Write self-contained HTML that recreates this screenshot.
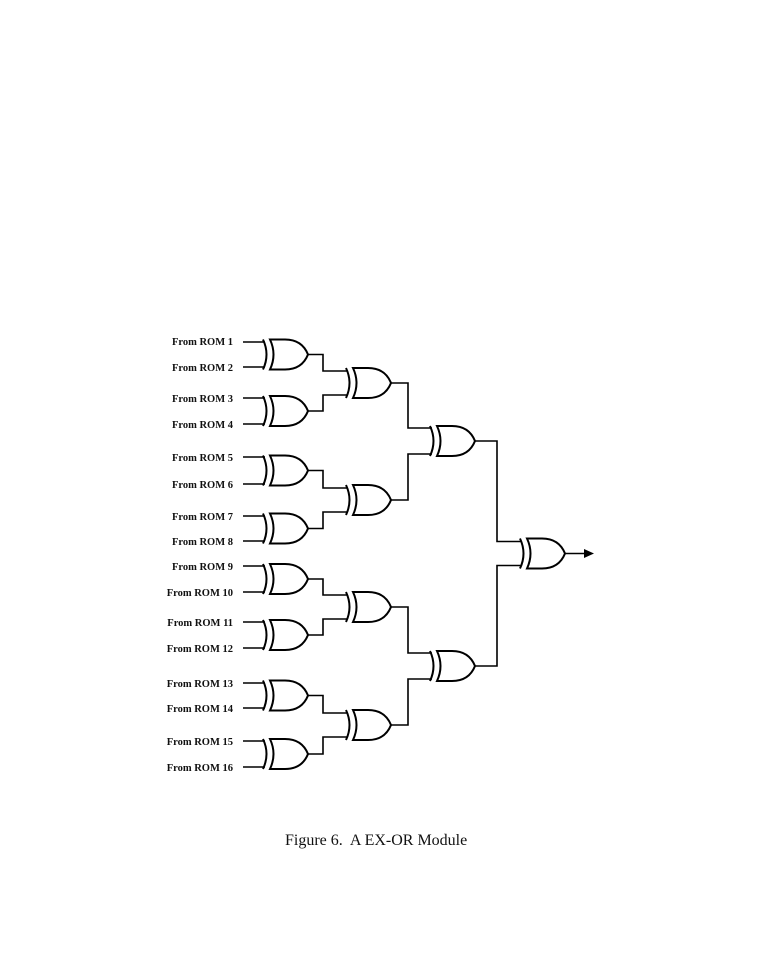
<!DOCTYPE html>
<html><head><style>body{margin:0;background:#fff}svg{display:block}</style></head><body>
<svg width="760" height="977" viewBox="0 0 760 977" xmlns="http://www.w3.org/2000/svg">
<defs>
<g id="g"><path d="M0,-15 L15,-15 Q32,-15 38,0 Q32,15 15,15 L0,15 Q7,0 0,-15 Z M-7,-15 Q0,0 -7,15" fill="none" stroke="#000" stroke-width="2"/></g>
</defs>
<g font-family="Liberation Serif, serif" font-size="10.5" font-weight="bold" text-anchor="end" fill="#111">
<text x="233" y="345">From ROM 1</text><text x="233" y="371">From ROM 2</text>
<text x="233" y="402">From ROM 3</text><text x="233" y="428">From ROM 4</text>
<text x="233" y="461">From ROM 5</text><text x="233" y="488">From ROM 6</text>
<text x="233" y="520">From ROM 7</text><text x="233" y="545">From ROM 8</text>
<text x="233" y="570">From ROM 9</text><text x="233" y="596">From ROM 10</text>
<text x="233" y="626">From ROM 11</text><text x="233" y="652">From ROM 12</text>
<text x="233" y="687">From ROM 13</text><text x="233" y="712">From ROM 14</text>
<text x="233" y="745">From ROM 15</text><text x="233" y="771">From ROM 16</text>
</g>
<g fill="none" stroke="#000" stroke-width="1.6">
<path d="M243,342H265M243,367H265M243,398H265M243,424H265M243,457H265M243,484H265M243,516H265M243,541H265M243,566H265M243,592H265M243,622H265M243,648H265M243,683H265M243,708H265M243,741H265M243,767H265"/>
<path d="M308,354.5H323V371H348M308,411H323V395H348"/>
<path d="M308,470.5H323V488H348M308,528.5H323V512H348"/>
<path d="M308,579H323V595H348M308,635H323V619H348"/>
<path d="M308,695.5H323V713H348M308,754H323V737H348"/>
<path d="M391,383H408V428H432M391,500H408V454H432"/>
<path d="M391,607H408V653H432M391,725H408V679H432"/>
<path d="M475,441H497V541.5H522M475,666H497V565.5H522"/>
<path d="M565,553.5H584"/>
</g>
<path d="M584,549 L594,553.5 L584,558 Z" fill="#000"/>
<use href="#g" x="270" y="354.5"/><use href="#g" x="270" y="411"/>
<use href="#g" x="270" y="470.5"/><use href="#g" x="270" y="528.5"/>
<use href="#g" x="270" y="579"/><use href="#g" x="270" y="635"/>
<use href="#g" x="270" y="695.5"/><use href="#g" x="270" y="754"/>
<use href="#g" x="353" y="383"/><use href="#g" x="353" y="500"/>
<use href="#g" x="353" y="607"/><use href="#g" x="353" y="725"/>
<use href="#g" x="437" y="441"/><use href="#g" x="437" y="666"/>
<use href="#g" x="527" y="553.5"/>
<text x="285" y="845" font-family="Liberation Serif, serif" font-size="16" fill="#111" xml:space="preserve">Figure 6.  A EX-OR Module</text>
</svg>
</body></html>
